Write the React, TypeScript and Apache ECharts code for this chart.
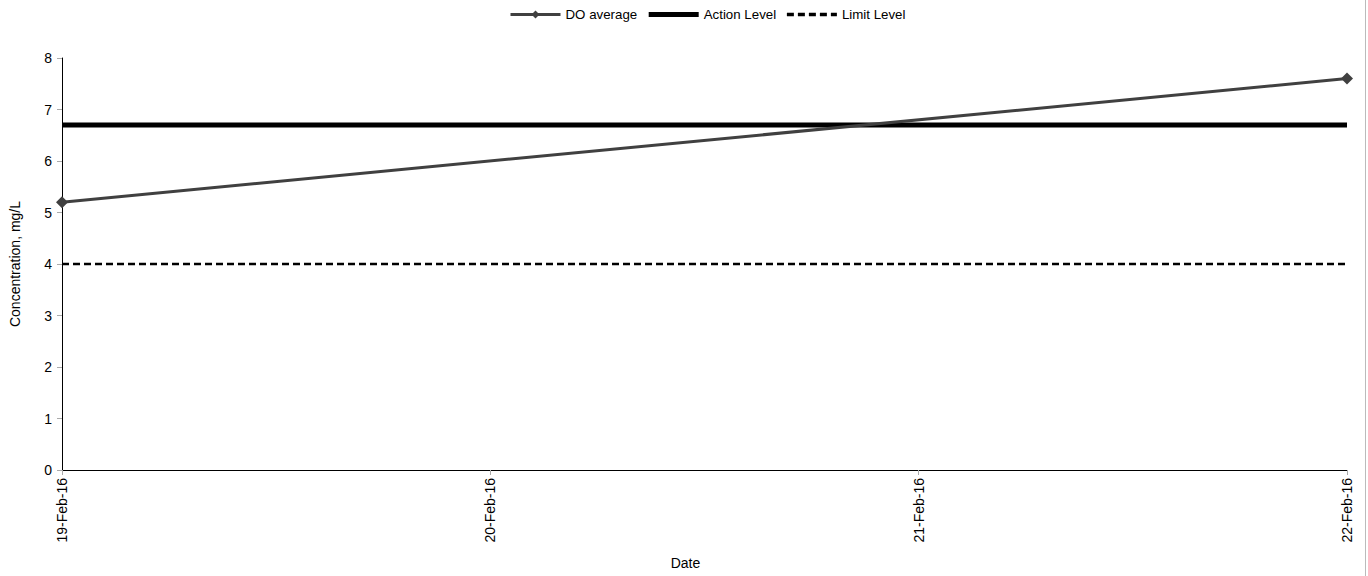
import React, { useEffect, useRef } from "react";
import * as echarts from "echarts";

const dates = ["19-Feb-16", "20-Feb-16", "21-Feb-16", "22-Feb-16"];
const doAverage: (number | null)[] = [5.2, null, null, 7.6];
const actionLevel = [6.7, 6.7, 6.7, 6.7];
const limitLevel = [4, 4, 4, 4];
const yTicks = { min: 0, max: 8, interval: 1 };

export default function App() {
  const ref = useRef<HTMLDivElement>(null);
  useEffect(() => {
    const chart = echarts.init(ref.current!, null, { renderer: "svg" });
    const font = "'Liberation Sans', Arial, sans-serif";
    chart.setOption({
      animation: false,
      textStyle: { fontFamily: font },
      legend: {
        top: 3,
        left: 504,
        itemWidth: 50,
        itemHeight: 10,
        itemGap: 9,
        textStyle: { fontFamily: font, fontSize: 13.3, color: "#000" },
        data: [
          { name: "DO average", lineStyle: { width: 3 } },
          { name: "Action Level", itemStyle: { opacity: 0 }, lineStyle: { width: 5 } },
          { name: "Limit Level", itemStyle: { opacity: 0 }, lineStyle: { width: 3.5, type: [7, 4] } },
        ],
      },
      grid: { left: 62, right: 21, top: 58, bottom: 106, containLabel: false, outerBoundsMode: "none" },
      xAxis: {
        type: "category",
        data: dates,
        boundaryGap: false,
        name: "Date",
        nameLocation: "middle",
        nameGap: 86,
        nameTextStyle: { fontFamily: font, fontSize: 14, color: "#000", padding: [0, 38, 0, 0] },
        axisLine: { lineStyle: { color: "#000", width: 1 } },
        axisTick: { show: true, alignWithLabel: true, length: 5, lineStyle: { color: "#aaa" } },
        axisLabel: { rotate: 90, fontSize: 14, color: "#000", margin: 8, fontFamily: font },
        splitLine: { show: false },
      },
      yAxis: {
        type: "value",
        min: yTicks.min,
        max: yTicks.max,
        interval: yTicks.interval,
        name: "Concentration, mg/L",
        nameLocation: "middle",
        nameGap: 40,
        nameTextStyle: { fontFamily: font, fontSize: 14, color: "#000" },
        axisLine: { show: true, lineStyle: { color: "#000", width: 1 } },
        axisTick: { show: true, length: 5, lineStyle: { color: "#aaa" } },
        axisLabel: { fontSize: 14, color: "#000", margin: 10, fontFamily: font },
        splitLine: { show: false },
      },
      series: [
        {
          name: "DO average",
          type: "line",
          data: doAverage,
          connectNulls: true,
          symbol: "diamond",
          symbolSize: 12,
          itemStyle: { color: "#404040" },
          lineStyle: { color: "#404040", width: 3 },
          z: 3,
        },
        {
          name: "Action Level",
          type: "line",
          data: actionLevel,
          symbol: "none",
          itemStyle: { color: "#000" },
          lineStyle: { color: "#000", width: 5 },
          z: 2,
        },
        {
          name: "Limit Level",
          type: "line",
          data: limitLevel,
          symbol: "none",
          itemStyle: { color: "#000" },
          lineStyle: { color: "#000", width: 2.5, type: [7, 4] },
          z: 2,
        },
      ],
      graphic: [
        {
          type: "line",
          shape: { x1: 1365.5, y1: 0, x2: 1365.5, y2: 576 },
          style: { stroke: "#bbb", lineWidth: 1 },
        },
      ],
    });
    return () => chart.dispose();
  }, []);
  return <div ref={ref} style={{ width: 1368, height: 576, position: "absolute", left: 0, top: 0 }} />;
}
